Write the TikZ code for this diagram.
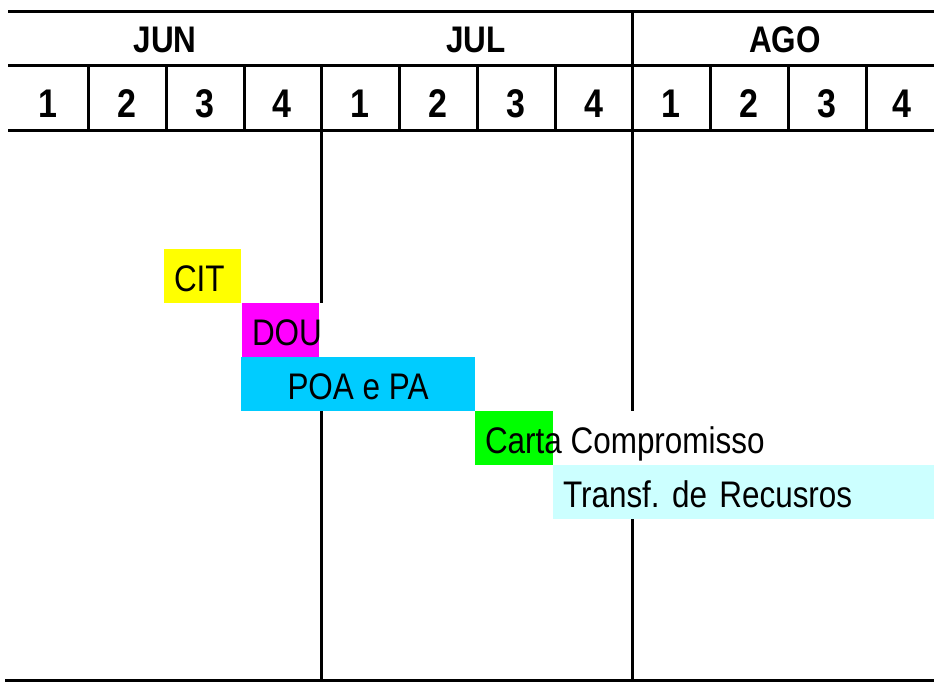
\documentclass[tikz,border=0pt]{standalone}
\usepackage{fontspec}
\setmainfont{Liberation Sans}[FakeStretch=0.85]
\usepackage{tikz}
\usetikzlibrary{positioning}
\definecolor{citcol}{RGB}{255,255,0}
\definecolor{doucol}{RGB}{255,0,255}
\definecolor{poacol}{RGB}{0,204,255}
\definecolor{cartacol}{RGB}{0,255,0}
\definecolor{transfcol}{RGB}{204,255,255}
\frenchspacing

\begin{document}
\begin{tikzpicture}[x=1pt,y=-1pt,line width=3pt,
  head/.style={font=\fontsize{37}{40}\selectfont\bfseries, anchor=base},
  bar/.style={anchor=north west, minimum height=54pt, inner ysep=0pt, inner xsep=10pt, outer sep=0pt,
    text height=34pt, text depth=4pt, font=\fontsize{37}{40}\selectfont, align=left}]
\useasboundingbox (0,0) rectangle (934,681);
% grid
\draw (8,11) -- (934,11);
\draw (8,65) -- (934,65);
\draw (8,130) -- (934,130);
\draw (5,680) -- (934,680);
\foreach \x in {88,166,244,399,477,555,710,788,866}
  \draw (\x,65) -- (\x,130);
\draw (321,65) -- (321,303);
\draw (321,411) -- (321,680);
\draw (632,11) -- (632,680);
% months and weeks
\node[head] (jun) at (165,52) {JUN};
\node[head] (jul) at (476,52) {JUL};
\node[head] (ago) at (785,52) {AGO};
\foreach \x/\n [count=\i] in {48/1,127/2,205/3,282/4,360/1,438/2,516/3,594/4,671/1,749/2,827/3,902/4}
  \node[head, font=\fontsize{40}{42}\selectfont\bfseries] (w\i) at (\x,117) {\n};
% bars
\node[bar, fill=citcol, text width=57pt] (cit) at (164,249) {CIT};
\node[bar, fill=doucol, text width=57pt] (dou) at (242,303) {DOU};
\node[bar, fill=poacol, minimum width=234pt, align=center] (poa) at (241,357) {POA e PA};
\node[bar, fill=white, path picture={\fill[cartacol] (path picture bounding box.north west) rectangle ++(78,54);}] (carta) at (475,411) {Carta Compromisso};
\node[bar, fill=transfcol, text width=361pt] (transf) at (553,465) {Transf. de Recusros};
\end{tikzpicture}
\end{document}
